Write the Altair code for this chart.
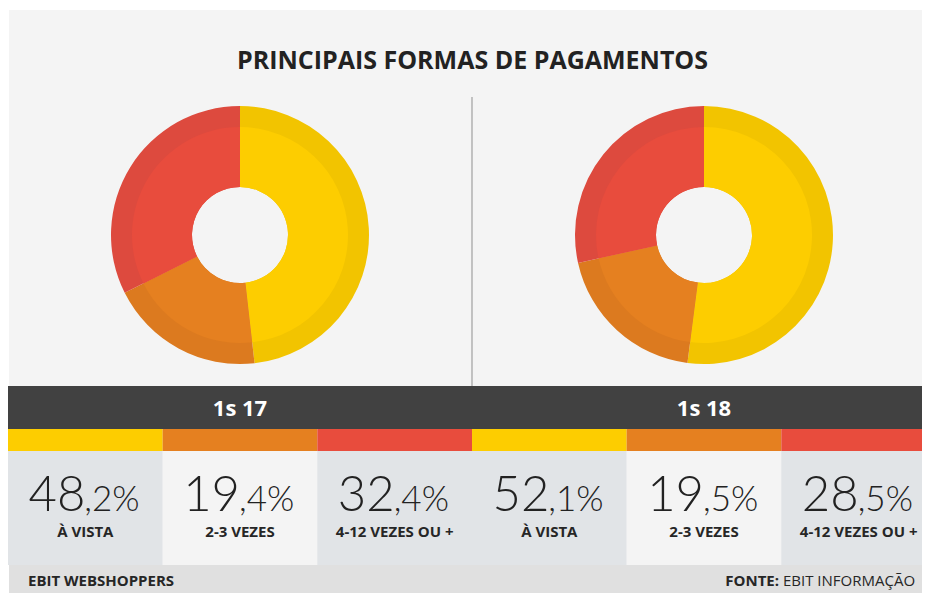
import altair as alt
import pandas as pd

# ---------------- data ----------------
periods = ["1s 17", "1s 18"]
categories = ["À VISTA", "2-3 VEZES", "4-12 VEZES OU +"]
values_1s17 = [48.2, 19.4, 32.4]
values_1s18 = [52.1, 19.5, 28.5]
int_parts_1s17 = ["48", "19", "32"]
dec_parts_1s17 = [",2%", ",4%", ",4%"]
int_parts_1s18 = ["52", "19", "28"]
dec_parts_1s18 = [",1%", ",5%", ",5%"]
title_text = "PRINCIPAIS FORMAS DE PAGAMENTOS"
footer_left = "EBIT WEBSHOPPERS"
footer_src_label = "FONTE:"
footer_src = "EBIT INFORMAÇÃO"

# ---------------- style ----------------
light_colors = ["#fdcd00", "#e58020", "#e84c3d"]
dark_colors = ["#f2c400", "#dc7a1f", "#dd4a3e"]
cell_colors = ["#e1e4e7", "#f4f4f4", "#e1e4e7"]
W, H = 914, 585
GROUP_W = 464
CELL_W = GROUP_W / 3
CX = [232, 696]
CY = 227
R_OUT, R_BAND, R_IN = 129, 108, 48
FONT = "Open Sans"

rows = []
for p, vals, ints, decs in [
    (periods[0], values_1s17, int_parts_1s17, dec_parts_1s17),
    (periods[1], values_1s18, int_parts_1s18, dec_parts_1s18),
]:
    gi = periods.index(p)
    for i, c in enumerate(categories):
        x0 = gi * GROUP_W + i * CELL_W
        rows.append(dict(period=p, category=c, value=vals[i], order=i,
                         light=light_colors[i], dark=dark_colors[i],
                         cell=cell_colors[i], int_part=ints[i], dec_part=decs[i],
                         x0=x0, x1=x0 + CELL_W, xc=x0 + CELL_W / 2))
df = pd.DataFrame(rows)

def X(f):
    return alt.X(f, type="quantitative", scale=None, axis=None)

def Y(f):
    return alt.Y(f, type="quantitative", scale=None, axis=None)

layout = pd.DataFrame([
    dict(name="panel", x0=1, x1=W, y0=2, y1=H, fill="#f4f4f4"),
    dict(name="band", x0=0, x1=W, y0=378, y1=421, fill="#414141"),
    dict(name="footer", x0=1, x1=W, y0=557, y1=H, fill="#e0e0e0"),
])

bg = alt.Chart(layout).mark_rect().encode(
    x=X("x0"), x2="x1", y=Y("y0"), y2="y1", color=alt.Color("fill:N", scale=None)
)

strips = alt.Chart(df).mark_rect().encode(
    x=X("x0"), x2="x1", y=alt.value(421), y2=alt.value(443),
    color=alt.Color("light:N", scale=None)
)
cells = alt.Chart(df).mark_rect().encode(
    x=X("x0"), x2="x1", y=alt.value(443), y2=alt.value(557),
    color=alt.Color("cell:N", scale=None)
)

divider = alt.Chart(pd.DataFrame({"y0": [89, 443], "y1": [378, 557]})).mark_rule(
    color="#8f8f8f", strokeWidth=1
).encode(x=alt.value(GROUP_W), y=Y("y0"), y2="y1")

title = alt.Chart(pd.DataFrame({"t": [title_text]})).mark_text(
    font=FONT, fontSize=25, fontWeight="bold", color="#222222", baseline="alphabetic"
).encode(text="t:N", x=alt.value(GROUP_W + 0.5), y=alt.value(61))

donuts = []
for gi, p in enumerate(periods):
    base = alt.Chart(df).transform_filter(alt.datum.period == p).transform_joinaggregate(
        total="sum(value)"
    ).transform_calculate(share="datum.value / datum.total")
    enc = dict(
        theta=alt.Theta("share:Q", stack=True, scale=alt.Scale(domain=[0, 1])),
        order=alt.Order("order:Q"),
        x=alt.value(CX[gi]), y=alt.value(CY),
    )
    outer = base.mark_arc(outerRadius=R_OUT, innerRadius=R_IN).encode(
        color=alt.Color("dark:N", scale=None), **enc)
    inner = base.mark_arc(outerRadius=R_BAND, innerRadius=R_IN).encode(
        color=alt.Color("light:N", scale=None), **enc)
    donuts += [outer, inner]

band_labels = alt.Chart(pd.DataFrame({"p": periods, "x": CX})).mark_text(
    font=FONT, fontSize=22, fontWeight="bold", color="white", baseline="alphabetic"
).encode(text="p:N", x=X("x"), y=alt.value(408))

num_int = alt.Chart(df).mark_text(
    font="Lato", fontWeight=300, fontSize=49, color="#222222", align="right",
    baseline="alphabetic"
).encode(text="int_part:N", x=X("xc"), y=alt.value(503))
num_dec = alt.Chart(df).mark_text(
    font="Lato", fontWeight=300, fontSize=35, color="#222222", align="left",
    baseline="alphabetic", dx=-1
).encode(text="dec_part:N", x=X("xc"), y=alt.value(503))

cat_labels = alt.Chart(df).mark_text(
    font=FONT, fontWeight="bold", fontSize=15, color="#262626", baseline="alphabetic"
).encode(text="category:N", x=X("xc"), y=alt.value(529))

foot_l = alt.Chart(pd.DataFrame({"t": [footer_left]})).mark_text(
    font=FONT, fontWeight="bold", fontSize=15, color="#262626", align="left",
    baseline="alphabetic"
).encode(text="t:N", x=alt.value(20), y=alt.value(578))
foot_src_label = alt.Chart(pd.DataFrame({"t": [footer_src_label]})).mark_text(
    font=FONT, fontWeight="bold", fontSize=15, color="#262626", align="right",
    baseline="alphabetic"
).encode(text="t:N", x=alt.value(771), y=alt.value(578))
foot_src = alt.Chart(pd.DataFrame({"t": [footer_src]})).mark_text(
    font=FONT, fontSize=15, color="#262626", align="left", baseline="alphabetic"
).encode(text="t:N", x=alt.value(775), y=alt.value(578))

chart = alt.layer(
    bg, divider, cells, strips, *donuts, title, band_labels, num_int, num_dec,
    cat_labels, foot_l, foot_src_label, foot_src
).properties(
    width=W, height=H, padding=0, autosize=alt.AutoSizeParams(type="none"),
    background="white"
).configure_view(stroke=None)

chart.save("out.html", embed_options={"renderer": "svg", "actions": False})
